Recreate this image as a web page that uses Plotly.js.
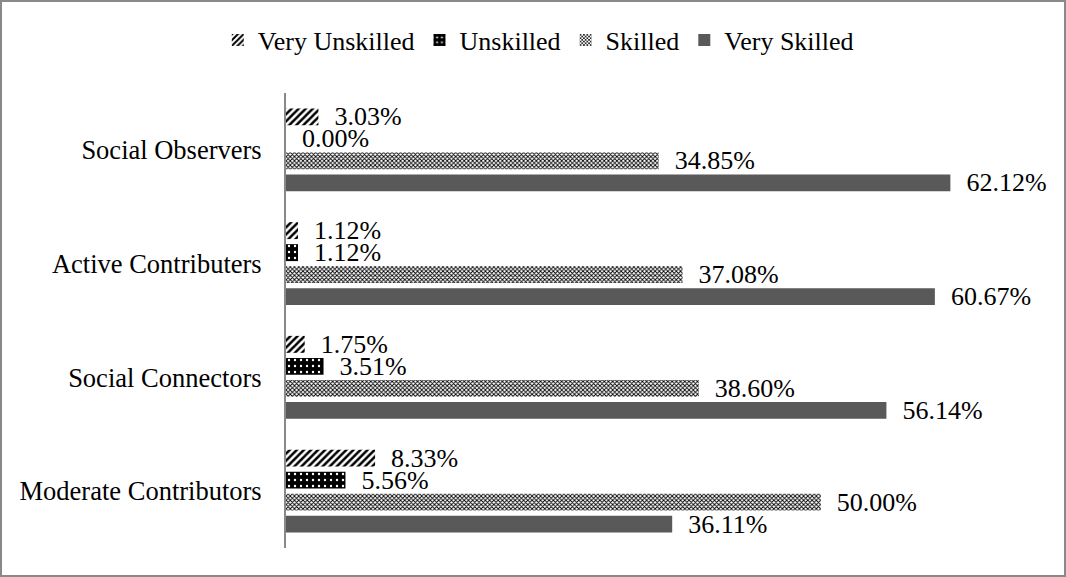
<!DOCTYPE html>
<html>
<head>
<meta charset="utf-8">
<script src="https://cdn.plot.ly/plotly-3.0.1.min.js"></script>
<style>
  html, body { margin: 0; padding: 0; background: #fff; }
  #wrap { width: 1066px; height: 577px; box-sizing: border-box; border: 2px solid #898989; }
  #chart { width: 1062px; height: 573px; }
</style>
</head>
<body>
<div id="wrap"><div id="chart"></div></div>
<script>
const categories = ["Social Observers", "Active Contributers", "Social Connectors", "Moderate Contributors"];
const veryUnskilled = [3.03, 1.12, 1.75, 8.33];
const unskilled = [0.00, 1.12, 3.51, 5.56];
const skilled = [34.85, 37.08, 38.60, 50.00];
const verySkilled = [62.12, 60.67, 56.14, 36.11];
const seriesNames = ["Very Unskilled", "Unskilled", "Skilled", "Very Skilled"];

const FONT = "Liberation Serif";
const textTpl = "\u00a0\u00a0%{x:.2f}%";

function mk(name, vals, marker) {
  return {
    type: "bar", orientation: "h", name: name,
    y: categories, x: vals,
    marker: marker,
    texttemplate: textTpl, textposition: "outside",
    constraintext: "none", cliponaxis: false,
    textfont: {family: FONT, size: 26, color: "#000"},
    hoverinfo: "skip"
  };
}

const traces = [
  mk(seriesNames[0], veryUnskilled, {color: "#ffffff", line: {width: 0},
     pattern: {shape: "/", fgcolor: "#000", bgcolor: "#fff", size: 5, solidity: 0.5, fillmode: "replace"}}),
  mk(seriesNames[1], unskilled, {color: "#000000", line: {width: 0},
     pattern: {shape: ".", fgcolor: "#fff", bgcolor: "#000", size: 6, solidity: 0.12, fillmode: "replace"}}),
  mk(seriesNames[2], skilled, {color: "#ffffff", line: {width: 0},
     pattern: {shape: "x", fgcolor: "#000", bgcolor: "#fff", size: 3, solidity: 0.5, fillmode: "replace"}}),
  mk(seriesNames[3], verySkilled, {color: "#595959", line: {width: 0}})
];

const layout = {
  width: 1062, height: 573,
  margin: {l: 284, r: 24, t: 91, b: 27},
  paper_bgcolor: "#fff", plot_bgcolor: "#fff",
  font: {family: FONT, size: 26, color: "#000"},
  barmode: "group", bargap: 0.226, bargroupgap: 0.23,
  showlegend: true,
  legend: {orientation: "h", xref: "container", yref: "container",
           x: 0.505, xanchor: "center", y: 1 - 38/573, yanchor: "middle",
           font: {family: FONT, size: 26, color: "#000"}, itemwidth: 30},
  xaxis: {range: [0, 70.5], visible: false, showgrid: false, zeroline: false, fixedrange: true},
  yaxis: {type: "category", autorange: "reversed", showgrid: false, zeroline: false,
          showline: true, linecolor: "#898989", linewidth: 2, ticks: "",
          ticklabelstandoff: 17,
          tickfont: {family: FONT, size: 26.5, color: "#000"}}
};

Plotly.newPlot("chart", traces, layout, {displayModeBar: false, staticPlot: true});
</script>
</body>
</html>
